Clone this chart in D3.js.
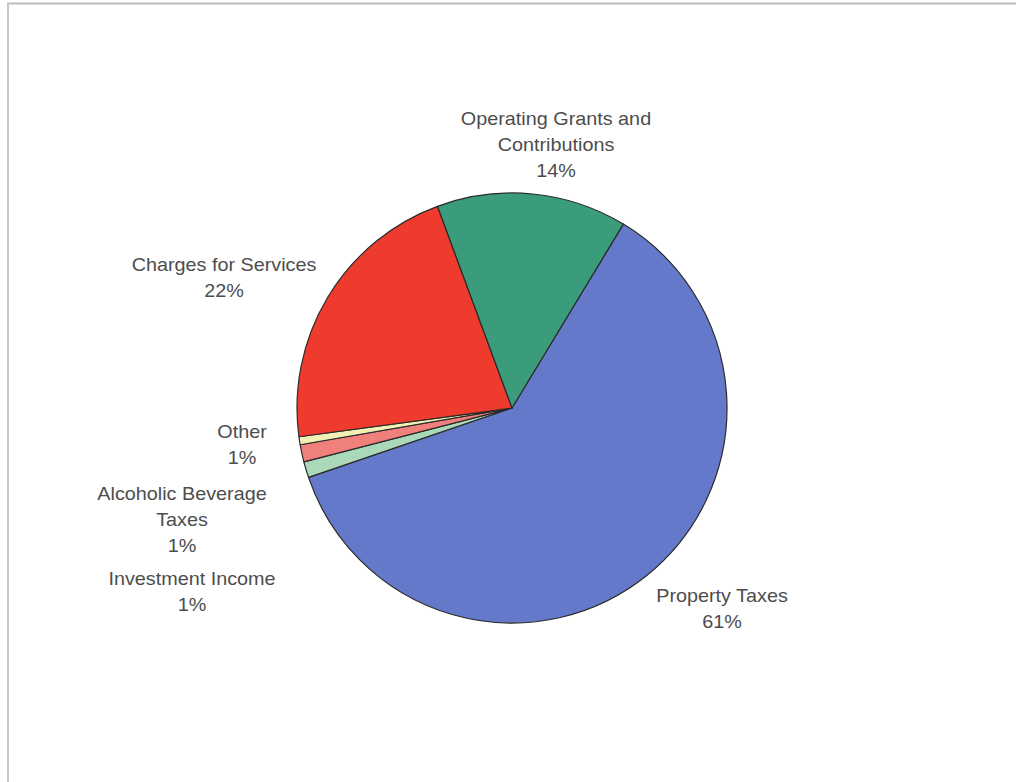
<!DOCTYPE html>
<html>
<head>
<meta charset="utf-8">
<script src="https://cdn.jsdelivr.net/npm/d3@7"></script>
<style>
  body { margin: 0; background: #fff; }
  svg text { font-family: "Liberation Sans", Arial, sans-serif; fill: #4d4d4d; }
</style>
</head>
<body>
<div id="chart"></div>
<script>
// revenue shares, in drawing order (clockwise from property taxes)
var categories = ["Property Taxes", "Investment Income", "Alcoholic Beverage Taxes", "Other", "Charges for Services", "Operating Grants and Contributions"];
var shares = [61.1, 1.2, 1.3, 0.6, 21.5, 14.3];
var labelLines = [
  ["Property Taxes"],
  ["Investment Income"],
  ["Alcoholic Beverage", "Taxes"],
  ["Other"],
  ["Charges for Services"],
  ["Operating Grants and", "Contributions"]
];
var colors = ["#6479c9", "#a9d9b9", "#f0807c", "#f2f0b4", "#ef3b2e", "#3b9c7b"];

var W = 1016, H = 782;
var cx = 512, cy = 408, r = 215;
var startDeg = 31.2;

// where each label block is centred (top line baseline)
var labelAnchor = [
  [722, 602], [192, 585], [182, 500], [242, 438], [224, 271], [556, 125]
];
var lineH = 26;

var svg = d3.select("#chart").append("svg")
  .attr("width", W).attr("height", H);

// scanned page frame: top and left edges only
svg.append("line")
  .attr("x1", 7).attr("x2", W).attr("y1", 3.5).attr("y2", 3.5)
  .attr("stroke", "#bdbdbd").attr("stroke-width", 2);
svg.append("line")
  .attr("x1", 8).attr("x2", 8).attr("y1", 3).attr("y2", H)
  .attr("stroke", "#c4c4c4").attr("stroke-width", 2);

var data = categories.map(function(c, i){
  return {name: c, value: shares[i], color: colors[i], lines: labelLines[i], idx: i};
});

var pie = d3.pie().sort(null).value(function(d){ return d.value; })
  .startAngle(startDeg * Math.PI / 180)
  .endAngle(startDeg * Math.PI / 180 + 2 * Math.PI);
var arc = d3.arc().innerRadius(0).outerRadius(r);

var g = svg.append("g").attr("transform", "translate(" + cx + "," + cy + ")");

g.selectAll("path.slice")
  .data(pie(data))
  .enter().append("path")
  .attr("class", "slice")
  .attr("d", arc)
  .attr("fill", function(d){ return d.data.color; })
  .attr("stroke", "#2a2a2a")
  .attr("stroke-width", 1.2)
  .attr("stroke-linejoin", "round");

var fmt = function(v){ return Math.max(1, Math.round(v)) + "%"; };

// text in the original is a little wider than Arial, so stretch it
var labels = svg.selectAll("g.lbl")
  .data(data)
  .enter().append("g")
  .attr("class", "lbl")
  .attr("transform", function(d){
    var a = labelAnchor[d.idx];
    return "translate(" + a[0] + "," + a[1] + ") scale(1.1,1)";
  })
  .append("text")
  .attr("text-anchor", "middle")
  .attr("font-size", 18);

labels.each(function(d){
  var t = d3.select(this);
  var lines = d.lines.concat([fmt(d.value)]);
  lines.forEach(function(s, k){
    t.append("tspan").attr("x", 0).attr("y", k * lineH).text(s);
  });
});
</script>
</body>
</html>
